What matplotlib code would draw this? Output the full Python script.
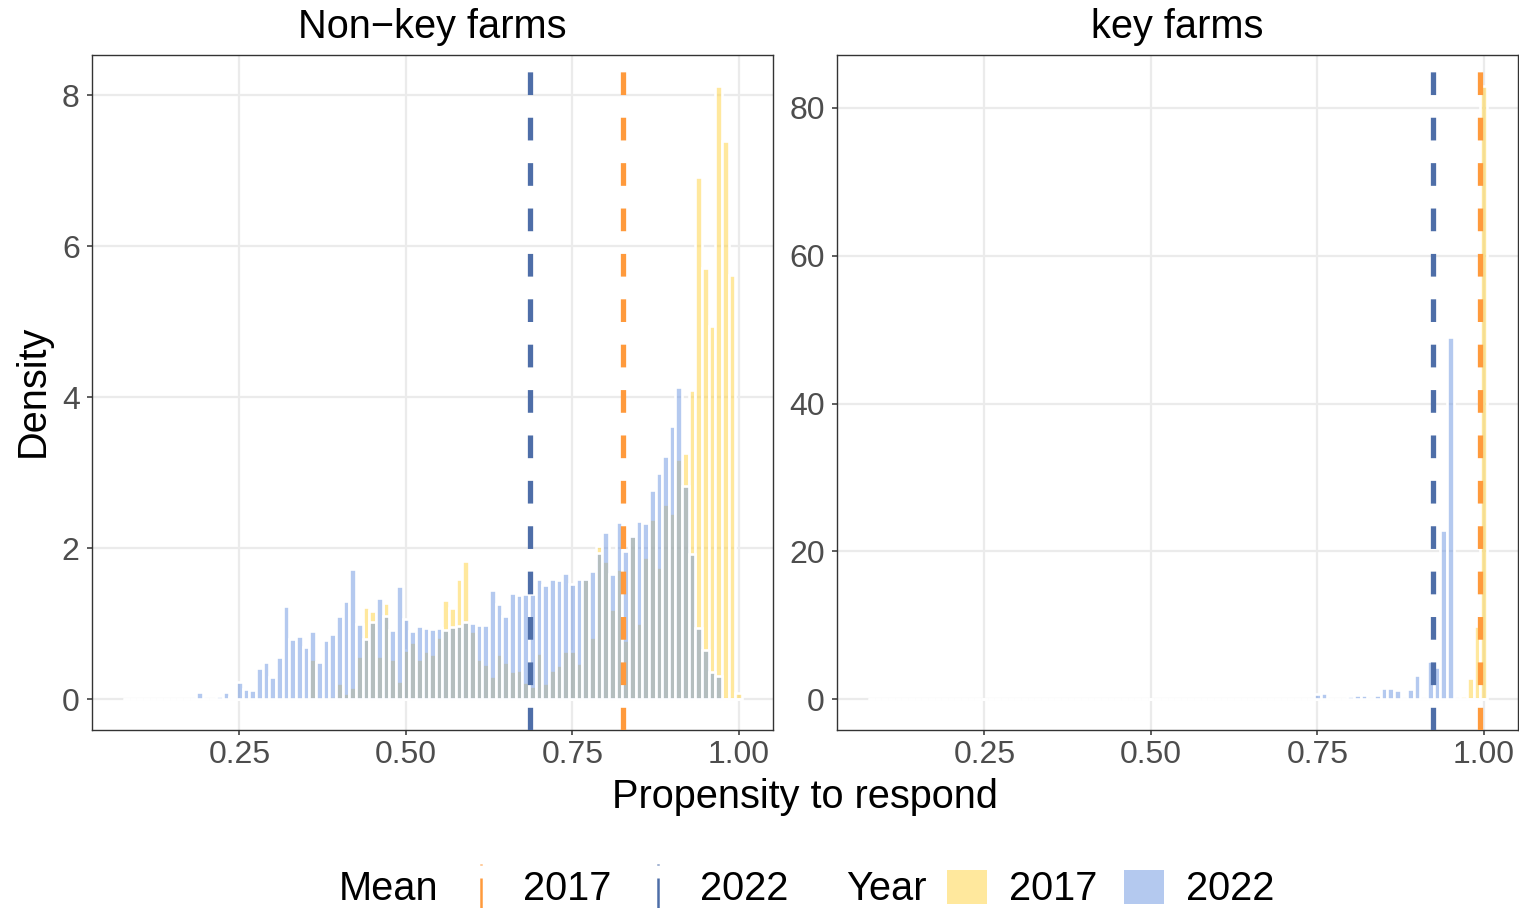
import numpy as np
import matplotlib
matplotlib.use('Agg')
import matplotlib.pyplot as plt
from matplotlib.lines import Line2D
from matplotlib.patches import Patch
from matplotlib.legend_handler import HandlerBase

plt.rcParams['font.family'] = ['Liberation Sans', 'DejaVu Sans']

# histogram bins (centres), width 0.01
bin_width = 0.01
bins = np.round(np.arange(0.08, 1.0001, bin_width), 2)

years = ['2017', '2022']
panel_titles = ['Non\u2212key farms', 'key farms']

# densities, Non-key farms
nonkey_2017_start = 0.36
nonkey_2017 = [0.53, 0, 0, 0.05, 0.22, 0.08, 0.16, 0.57, 1.22, 1.17,
               0.58, 1.27, 0.53, 0.24, 0.66, 0.76, 0.53, 0.64, 0.60, 0.82,
               1.32, 1.21, 1.59, 1.83, 0.91, 0.53, 0.47, 0.31, 0.60, 0.49,
               0.38, 0.39, 0.23, 0.18, 0.61, 0.21, 0.39, 0.46, 0.64, 0.64,
               0.48, 1.59, 0.82, 2.03, 1.83, 1.19, 1.73, 0.79, 2.16, 1.01,
               1.89, 2.39, 1.75, 2.59, 2.47, 3.18, 3.26, 4.10, 6.92, 5.71,
               4.94, 8.13, 7.40, 5.62, 0.09]
nonkey_2022_start = 0.19
nonkey_2022 = [0.10, 0, 0, 0.04, 0.10, 0.03, 0.23, 0.14, 0.13, 0.41,
               0.50, 0.30, 0.56, 1.23, 0.80, 0.84, 0.69, 0.91, 0.50, 0.79,
               0.86, 1.11, 1.30, 1.73, 1.00, 0.80, 1.02, 1.34, 1.11, 0.92,
               1.50, 1.06, 0.91, 0.97, 0.95, 0.93, 0.94, 0.92, 0.96, 0.97,
               1.02, 1.01, 0.99, 0.99, 1.45, 1.26, 1.11, 1.41, 1.38, 1.40,
               1.40, 1.60, 1.51, 1.60, 1.58, 1.67, 1.53, 1.59, 1.60, 1.70,
               1.94, 2.22, 1.66, 2.35, 1.97, 2.17, 2.36, 2.33, 2.77, 3.00,
               3.22, 3.62, 4.14, 2.83, 1.93, 0.95, 0.66, 0.36, 0.31]

# densities, key farms
key_2017_start = 0.95
key_2017 = [0.3, 0, 0.45, 2.94, 9.9, 83.0]
key_2022_start = 0.75
key_2022 = [0.7, 0.8, 0, 0, 0, 0.4, 0.65, 0.55, 0, 0.55,
            1.55, 1.55, 1.3, 0, 1.45, 3.35, 0, 5.15, 4.4, 22.9, 49.0]

# mean propensity per year
nonkey_means = [0.826, 0.687]
key_means = [0.995, 0.924]

xticks = [0.25, 0.50, 0.75, 1.00]
nonkey_yticks = [0, 2, 4, 6, 8]
key_yticks = [0, 20, 40, 60, 80]

fill_colors = {'2017': (1.0, 0.824, 0.235, 0.5), '2022': (0.42, 0.584, 0.882, 0.5)}
mean_colors = {'2017': '#FF9A3C', '2022': '#4E6EA8'}


def padded(start, values):
    out = np.zeros(len(bins))
    i = int(round((start - bins[0]) / bin_width))
    out[i:i + len(values)] = values
    return out


class VlineKey(HandlerBase):
    # vertical dashed key, like the mean lines
    def create_artists(self, legend, orig_handle, xdescent, ydescent,
                       width, height, fontsize, trans):
        xc = width / 2 - xdescent
        yc = 0.33 * fontsize
        half = 0.6 * fontsize
        line = Line2D([xc, xc], [yc - half, yc + half])
        line.update_from(orig_handle)
        line.set_transform(trans)
        return [line]


W, H = 1519, 908
fig = plt.figure(figsize=(W / 100, H / 100), dpi=100)
ax1 = fig.add_axes([92 / W, 1 - 730 / H, 681 / W, 675 / H])
ax2 = fig.add_axes([837 / W, 1 - 730 / H, 681 / W, 675 / H])

panels = [
    (ax1, panel_titles[0], padded(nonkey_2017_start, nonkey_2017),
     padded(nonkey_2022_start, nonkey_2022), nonkey_means, nonkey_yticks),
    (ax2, panel_titles[1], padded(key_2017_start, key_2017),
     padded(key_2022_start, key_2022), key_means, key_yticks),
]

for ax, title, d17, d22, means, yticks in panels:
    for year, dens in zip(years, [d17, d22]):
        ax.bar(bins, dens, width=bin_width, color=fill_colors[year],
               edgecolor='white', linewidth=1.9)
    for year, m in zip(years, means):
        ax.axvline(m, color=mean_colors[year], lw=3.8,
                   linestyle=(0, (4.3, 4.3)), zorder=3)

    ymax = max(d17.max(), d22.max())
    ax.set_xlim(0.0285, 1.0515)
    ax.set_ylim(-0.05 * ymax, 1.05 * ymax)
    ax.set_xticks(xticks)
    ax.set_xticklabels(['%.2f' % t for t in xticks])
    ax.set_yticks(yticks)
    ax.set_yticklabels([str(t) for t in yticks])
    ax.set_axisbelow(True)
    ax.grid(True, color='#EBEBEB', linewidth=1.6)
    for sp in ax.spines.values():
        sp.set_color('#333333')
        sp.set_linewidth(1.0)
    ax.tick_params(length=3.5, width=1.1, color='#333333',
                   labelcolor='#4D4D4D', labelsize=23)
    ax.tick_params(axis='x', pad=4.0)
    ax.tick_params(axis='y', pad=5.4)
    ax.annotate(title, xy=(0.5, 1), xycoords='axes fraction',
                xytext=(0, 12.2), textcoords='offset points',
                ha='center', va='baseline', fontsize=28.6)

fig.text(805 / W, 1 - 808 / H, 'Propensity to respond', ha='center',
         va='baseline', fontsize=28.6)
fig.text(44 / W, 1 - 391 / H, 'Density', ha='center', va='baseline',
         rotation=90, rotation_mode='anchor', fontsize=28.6)

# legends at the bottom
mean_handles = [Line2D([], [], color=mean_colors[y], lw=1.8,
                       linestyle=(0, (12.4, 5.2))) for y in years]
year_handles = [Patch(facecolor=fill_colors[y], edgecolor='none') for y in years]

common = dict(ncol=2, frameon=False, fontsize=28.6, handlelength=1.0,
              handleheight=0.96, handletextpad=0.55, columnspacing=0.68,
              borderpad=0, borderaxespad=0, loc='center left')
leg1 = fig.legend(mean_handles, years, bbox_to_anchor=(461 / W, 1 - 889 / H),
                  handler_map={Line2D: VlineKey()}, **common)
leg2 = fig.legend(year_handles, years, bbox_to_anchor=(947 / W, 1 - 889 / H),
                  **common)
fig.text(339 / W, 1 - 900 / H, 'Mean', ha='left', va='baseline', fontsize=28.6)
fig.text(846 / W, 1 - 900 / H, 'Year', ha='left', va='baseline', fontsize=28.6)

fig.savefig('out.png', dpi=100)
